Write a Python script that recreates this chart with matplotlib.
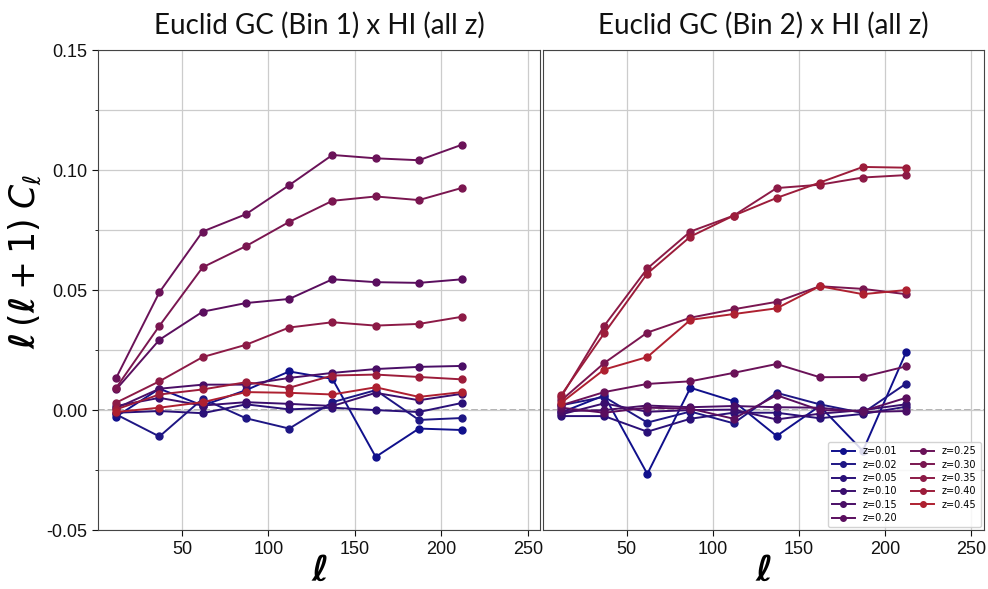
import numpy as np
import matplotlib
matplotlib.use("Agg")
import matplotlib.pyplot as plt
from matplotlib.ticker import MultipleLocator

ell = [12, 37, 62, 87, 112, 137, 162, 187, 212]
z_labels = ["z=0.01", "z=0.02", "z=0.05", "z=0.10", "z=0.15", "z=0.20",
            "z=0.25", "z=0.30", "z=0.35", "z=0.40", "z=0.45"]

# Bin 1 x HI, one list per redshift slice (same order as z_labels)
bin1 = [
    [-0.0027, 0.0089, 0.0019, 0.0083, 0.0161, 0.0130, -0.0195, -0.0077, -0.0083],
    [-0.0018, -0.0110, 0.0047, -0.0034, -0.0077, 0.0033, 0.0083, -0.0041, -0.0033],
    [-0.0011, -0.0004, -0.0013, 0.0024, 0.0003, 0.0010, 0.0000, -0.0008, 0.0030],
    [0.0017, 0.0051, 0.0019, 0.0033, 0.0026, 0.0017, 0.0072, 0.0041, 0.0068],
    [0.0008, 0.0089, 0.0106, 0.0106, 0.0134, 0.0155, 0.0171, 0.0180, 0.0184],
    [0.0086, 0.0293, 0.0410, 0.0446, 0.0463, 0.0545, 0.0533, 0.0530, 0.0545],
    [0.0134, 0.0491, 0.0744, 0.0816, 0.0937, 0.1063, 0.1049, 0.1041, 0.1106],
    [0.0093, 0.0351, 0.0595, 0.0683, 0.0784, 0.0872, 0.0890, 0.0875, 0.0926],
    [0.0031, 0.0120, 0.0221, 0.0272, 0.0344, 0.0366, 0.0352, 0.0359, 0.0389],
    [0.0003, 0.0065, 0.0086, 0.0116, 0.0093, 0.0144, 0.0148, 0.0138, 0.0128],
    [-0.0008, 0.0010, 0.0033, 0.0075, 0.0072, 0.0065, 0.0095, 0.0055, 0.0075],
]

# Bin 2 x HI
bin2 = [
    [-0.0010, 0.0061, -0.0266, 0.0093, 0.0037, -0.0108, 0.0017, -0.0170, 0.0240],
    [0.0020, 0.0055, -0.0052, -0.0006, -0.0055, 0.0072, 0.0024, -0.0012, 0.0110],
    [-0.0025, -0.0025, -0.0090, -0.0036, -0.0011, -0.0011, -0.0034, -0.0016, 0.0014],
    [-0.0018, 0.0028, -0.0007, 0.0000, 0.0002, -0.0039, -0.0015, 0.0000, 0.0024],
    [-0.0005, 0.0000, 0.0019, 0.0012, 0.0017, 0.0012, 0.0010, -0.0008, -0.0004],
    [0.0010, -0.0011, 0.0010, 0.0006, -0.0036, 0.0062, 0.0000, -0.0004, 0.0051],
    [0.0020, 0.0075, 0.0109, 0.0120, 0.0155, 0.0192, 0.0137, 0.0138, 0.0182],
    [0.0040, 0.0196, 0.0323, 0.0385, 0.0420, 0.0451, 0.0516, 0.0505, 0.0483],
    [0.0055, 0.0351, 0.0590, 0.0744, 0.0810, 0.0925, 0.0939, 0.0969, 0.0979],
    [0.0062, 0.0320, 0.0569, 0.0723, 0.0810, 0.0884, 0.0948, 0.1013, 0.1010],
    [0.0030, 0.0169, 0.0221, 0.0376, 0.0400, 0.0424, 0.0516, 0.0483, 0.0500],
]

x_ticks = [50, 100, 150, 200, 250]
y_ticks = [-0.05, 0.0, 0.05, 0.10, 0.15]
y_ticklabels = ["-0.05", "0.00", "0.05", "0.10", "0.15"]

colors = ["#10108c", "#1e1684", "#2a1078", "#3a0e6e", "#4a0e66", "#5a0e5e",
          "#6a1258", "#7a1650", "#8c1a46", "#9c1c3a", "#ae2030"]

plt.rcParams["axes.unicode_minus"] = False
fig = plt.figure(figsize=(9.88, 5.89), dpi=100)
ax1 = fig.add_axes([0.0992, 0.100, 0.4474, 0.815])
ax2 = fig.add_axes([0.5496, 0.100, 0.4459, 0.815])

titles = ["Euclid GC (Bin 1) x HI (all z)", "Euclid GC (Bin 2) x HI (all z)"]
for ax, data, title in [(ax1, bin1, titles[0]), (ax2, bin2, titles[1])]:
    for vals, c, lab in zip(data, colors, z_labels):
        ax.plot(ell, vals, color=c, marker="o", markersize=5, linewidth=1.4, label=lab)
    ax.axhline(0, color="#aaaaaa", linestyle="--", linewidth=1.3, zorder=0)
    ax.set_xlim(1.5, 257)
    ax.set_ylim(-0.05, 0.15)
    ax.set_yticks(y_ticks)
    ax.yaxis.set_minor_locator(MultipleLocator(0.025))
    ax.set_xticks(x_ticks)
    ax.set_xticklabels([str(t) for t in x_ticks], family="Liberation Sans")
    ax.grid(True, which="both", color="#cccccc", linewidth=0.9)
    ax.set_axisbelow(True)
    for s in ax.spines.values():
        s.set_color("#444444")
    ax.tick_params(labelsize=13, colors="#111111", length=4)
    ax.set_title(title, fontsize=20, family="Lato", pad=12, color="#111111")
    ax.set_xlabel(r"$\boldsymbol{\ell}$", fontsize=26, labelpad=-3)

ax1.set_yticklabels(y_ticklabels, family="Liberation Sans")
ax2.tick_params(axis="y", which="both", left=False, labelleft=False)
ax1.set_ylabel(r"$\boldsymbol{\ell}\,(\boldsymbol{\ell}+1)\;\boldsymbol{C_{\ell}}$",
               fontsize=25)
ax1.yaxis.set_label_coords(-0.125, 0.56)

ax2.legend(loc="lower right", ncol=2, fontsize=7, markerscale=0.8,
           handlelength=2.4, borderaxespad=0.3, framealpha=0.85,
           labelspacing=0.35, columnspacing=1.4)

fig.savefig("out.png", dpi=100)
